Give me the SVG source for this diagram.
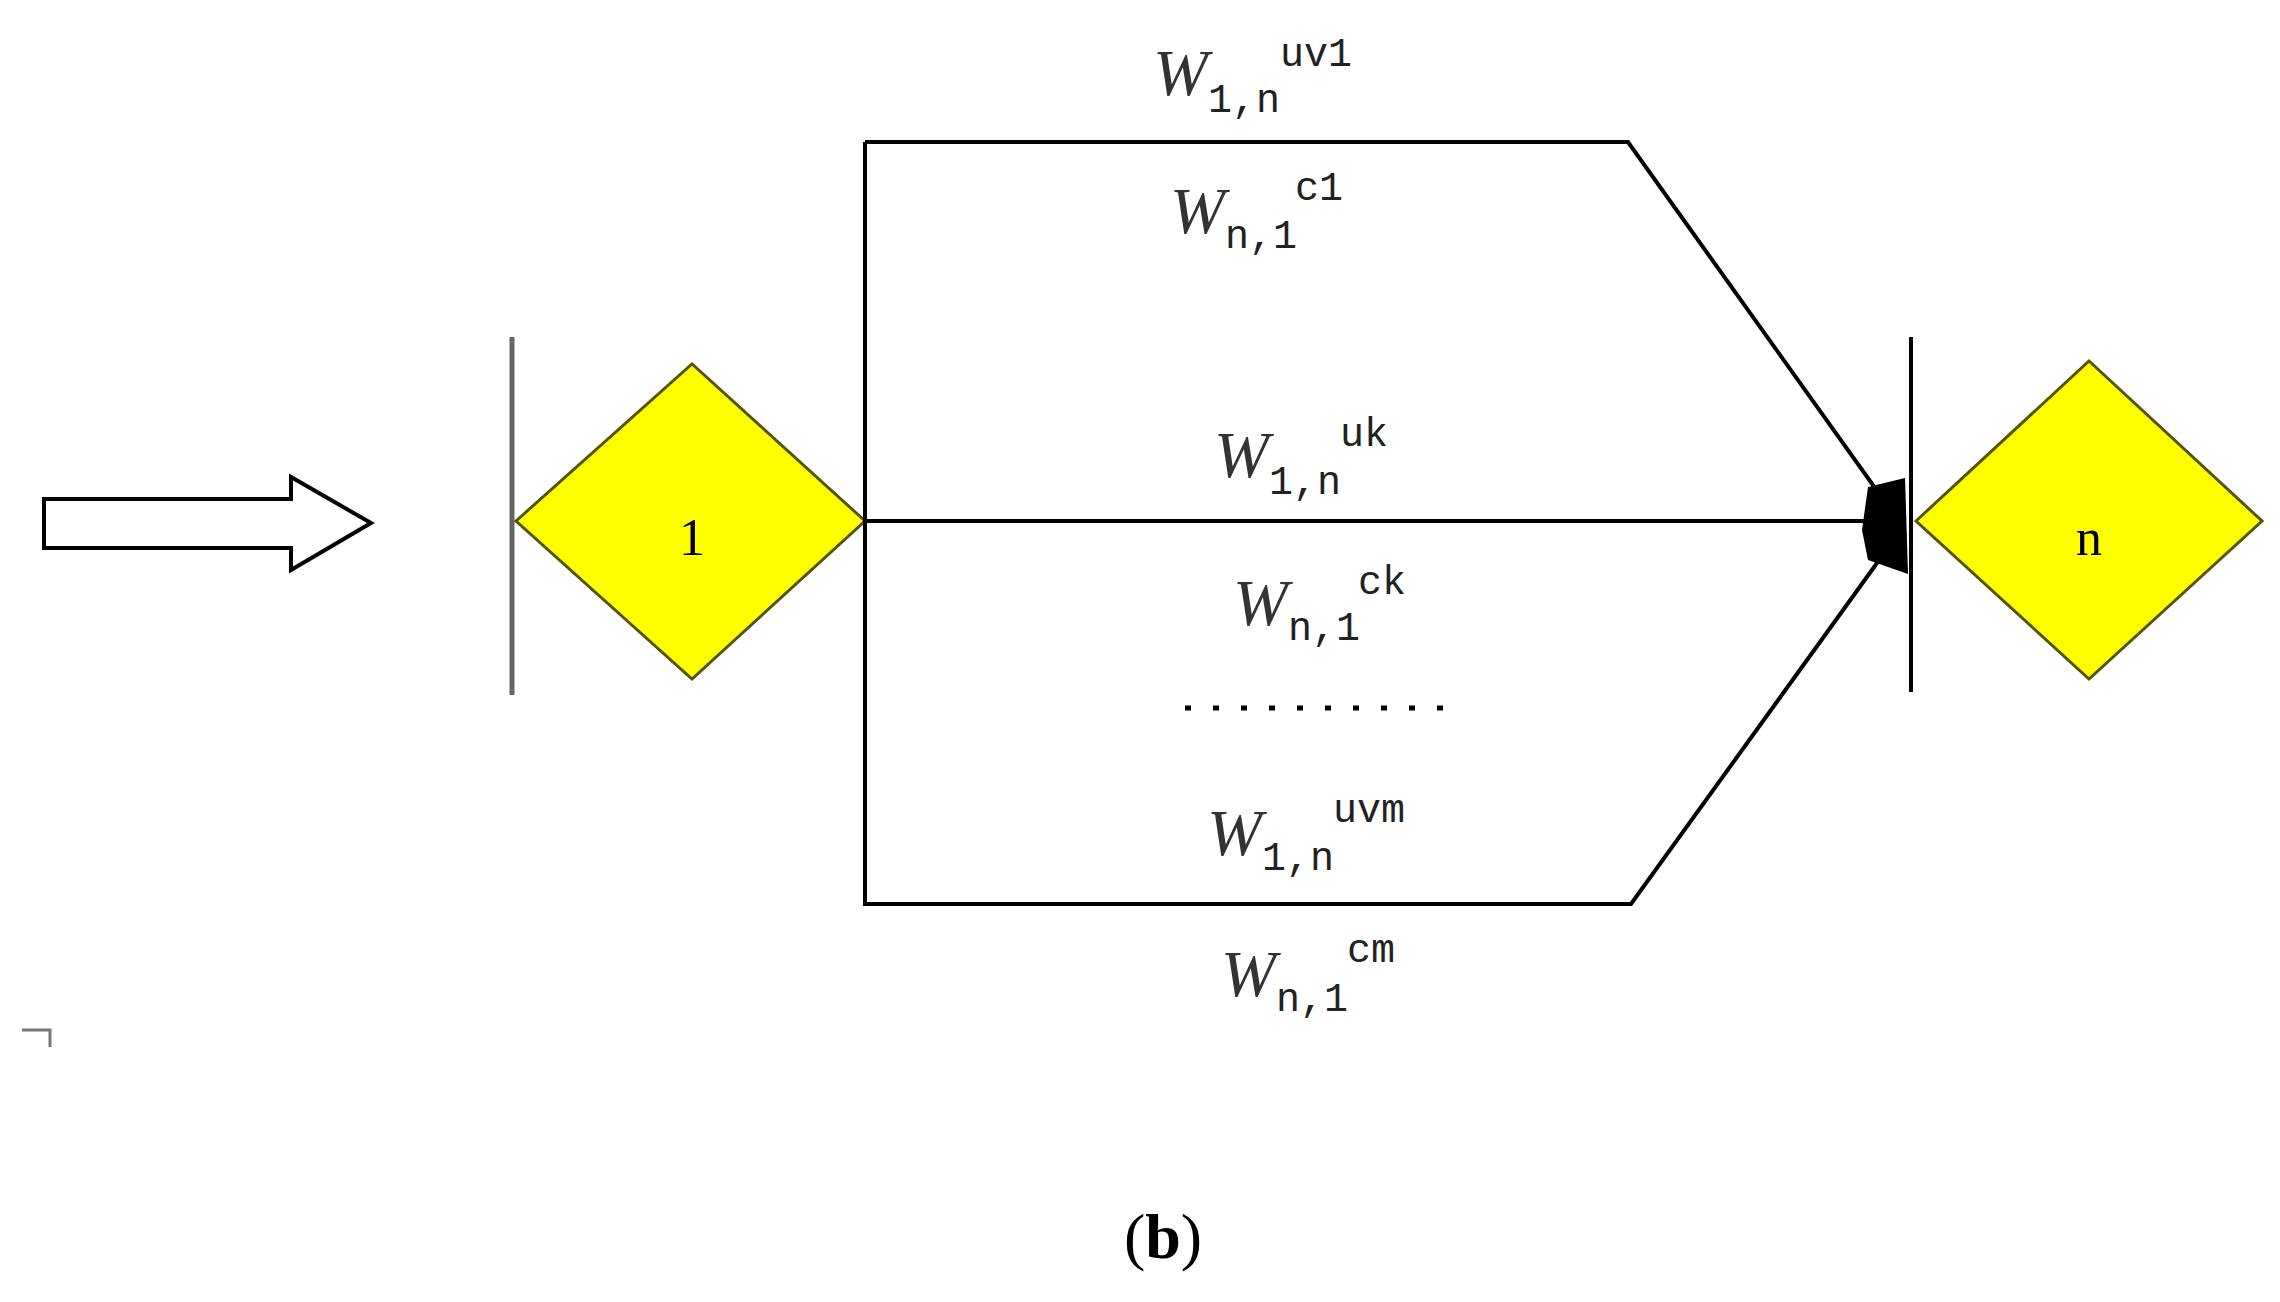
<svg xmlns="http://www.w3.org/2000/svg" width="2280" height="1302" viewBox="0 0 2280 1302">
<style>
.w{font-family:"Liberation Serif",serif;font-style:italic;font-size:66px;fill:#333}
.s{font-family:"Liberation Mono",monospace;font-size:40px;fill:#222}
.ln{fill:none;stroke:#000;stroke-width:4}
.dia{fill:#ffff00;stroke:#555500;stroke-width:3}
.bar{stroke:#666;stroke-width:5}
.lbl{font-family:"Liberation Serif",serif;font-size:52px;fill:#000;text-anchor:middle}
</style>
<rect width="2280" height="1302" fill="#fff"/>
<polygon points="44,499 291,499 291,477 371,523 291,570 291,548 44,548" fill="#fff" stroke="#000" stroke-width="4"/>
<path d="M22,1030 H50 V1047" fill="none" stroke="#777" stroke-width="3"/>
<g id="node1">
<line class="bar" x1="512" y1="337" x2="512" y2="695"/>
<polygon class="dia" points="516,521 692,364 865,521 692,679"/>
<text class="lbl" x="692" y="555">1</text>
</g>
<g id="noden">
<line x1="1911" y1="337" x2="1911" y2="692" stroke="#000" stroke-width="4"/>
<polygon class="dia" points="1916,521 2089,361 2262,521 2089,679"/>
<text class="lbl" x="2089" y="555">n</text>
</g>
<g id="connectors">
<polyline class="ln" points="865,142 865,904 1631,904 1890,545"/>
<polyline class="ln" points="865,142 1628,142 1890,509"/>
<line class="ln" x1="865" y1="521" x2="1880" y2="521"/>
<polygon points="1868,487 1905,478 1908,574 1868,560 1862,530" fill="#000"/>
<line x1="1185" y1="708" x2="1454" y2="708" stroke="#000" stroke-width="5" stroke-dasharray="6,22"/>
</g>
<g id="labels">
<text class="w" x="1153" y="95">W</text><text class="s" x="1208" y="112">1,n</text><text class="s" x="1280" y="66">uv1</text>
<text class="w" x="1170" y="233">W</text><text class="s" x="1225" y="248">n,1</text><text class="s" x="1295" y="200">c1</text>
<text class="w" x="1214" y="477">W</text><text class="s" x="1269" y="494">1,n</text><text class="s" x="1340" y="446">uk</text>
<text class="w" x="1233" y="625">W</text><text class="s" x="1288" y="640">n,1</text><text class="s" x="1358" y="594">ck</text>
<text class="w" x="1207" y="855">W</text><text class="s" x="1262" y="870">1,n</text><text class="s" x="1333" y="822">uvm</text>
<text class="w" x="1221" y="996">W</text><text class="s" x="1276" y="1011">n,1</text><text class="s" x="1347" y="962">cm</text>
<text x="1163" y="1258" font-family="Liberation Serif,serif" font-size="64" text-anchor="middle" fill="#000">(<tspan font-weight="bold">b</tspan>)</text>
</g>
</svg>
